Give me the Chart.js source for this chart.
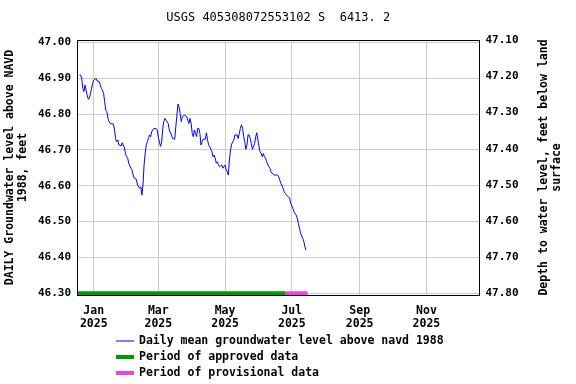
<!DOCTYPE html>
<html>
<head>
<meta charset="utf-8">
<script src="https://cdn.jsdelivr.net/npm/chart.js@4/dist/chart.umd.min.js"></script>
<style>
  body { margin: 0; background: #fff; }
  #wrap { width: 576px; height: 384px; position: relative; }
</style>
</head>
<body>
<div id="wrap"><canvas id="grafico"></canvas></div>
<script>
// dias contados desde el 1 de enero de 2025
const dias = [
  -13, -12, -11, -10, -9, -8, -7, -6, -5, -4, -3, -2, -1, 0, 2, 3, 5, 7, 8, 9,
  10, 11, 12, 13, 14, 15, 18, 19, 20, 21, 22, 23, 25, 26, 28, 29, 30, 31, 32, 34,
  35, 36, 37, 39, 40, 42, 43, 44, 45, 46, 47, 48, 49, 50, 51, 52, 53, 54, 55, 57,
  58, 59, 61, 62, 63, 64, 65, 67, 68, 69, 71, 72, 74, 75, 76, 77, 78, 79, 80, 81,
  83, 85, 86, 87, 88, 89, 90, 91, 92, 93, 94, 95, 96, 97, 98, 99, 100, 102, 103, 104,
  105, 106, 108, 109, 110, 111, 112, 113, 114, 115, 117, 118, 119, 120, 121, 122, 123, 124, 125, 126,
  127, 128, 129, 131, 132, 133, 134, 135, 136, 137, 138, 139, 140, 141, 142, 143, 144, 145, 146, 147,
  148, 149, 150, 151, 152, 153, 154, 155, 156, 157, 158, 160, 161, 162, 163, 165, 168, 169, 170, 171,
  173, 174, 175, 176, 178, 179, 180, 182, 183, 185, 186, 187, 188, 189, 191, 192, 193, 194
];
const nivel = [
  46.909, 46.909, 46.900, 46.872, 46.863, 46.881, 46.867, 46.853, 46.842, 46.844, 46.858, 46.872, 46.886, 46.895, 46.900, 46.893, 46.891, 46.872, 46.867, 46.858,
  46.835, 46.811, 46.807, 46.788, 46.779, 46.774, 46.772, 46.756, 46.732, 46.723, 46.728, 46.714, 46.711, 46.720, 46.707, 46.690, 46.681, 46.677, 46.663, 46.649,
  46.644, 46.630, 46.621, 46.618, 46.602, 46.593, 46.597, 46.574, 46.602, 46.658, 46.690, 46.714, 46.723, 46.732, 46.742, 46.737, 46.751, 46.756, 46.760, 46.760,
  46.756, 46.735, 46.710, 46.720, 46.758, 46.779, 46.788, 46.779, 46.774, 46.756, 46.742, 46.732, 46.730, 46.765, 46.797, 46.828, 46.820, 46.802, 46.779, 46.793,
  46.797, 46.793, 46.782, 46.774, 46.788, 46.774, 46.746, 46.737, 46.756, 46.746, 46.737, 46.760, 46.760, 46.746, 46.714, 46.723, 46.730, 46.730, 46.748, 46.728,
  46.714, 46.709, 46.695, 46.681, 46.686, 46.677, 46.663, 46.667, 46.658, 46.653, 46.658, 46.649, 46.654, 46.658, 46.644, 46.639, 46.630, 46.672, 46.700, 46.716,
  46.723, 46.728, 46.742, 46.742, 46.732, 46.746, 46.760, 46.770, 46.760, 46.737, 46.723, 46.702, 46.714, 46.742, 46.742, 46.732, 46.718, 46.702, 46.709, 46.718,
  46.737, 46.748, 46.728, 46.709, 46.695, 46.690, 46.681, 46.690, 46.681, 46.677, 46.667, 46.653, 46.649, 46.639, 46.635, 46.630, 46.630, 46.625, 46.616, 46.607,
  46.593, 46.583, 46.579, 46.574, 46.569, 46.565, 46.551, 46.537, 46.527, 46.518, 46.509, 46.495, 46.481, 46.467, 46.453, 46.444, 46.430, 46.420
];

// periodos de aprobacion (inicio, fin) en dias
const periodoAprobado = [-15.3, 175];
const periodoProvisional = [175, 195.5];
const nivelBarra = 46.30;

// marcas del eje x
const mesesDias = [0, 59, 120, 181, 243, 304];
const mesesEtiquetas = ["Jan", "Mar", "May", "Jul", "Sep", "Nov"];
const anioEtiqueta = "2025";

// marcas de los ejes y
const ticksIzq = [46.30, 46.40, 46.50, 46.60, 46.70, 46.80, 46.90, 47.00];
const ticksDer = [47.10, 47.20, 47.30, 47.40, 47.50, 47.60, 47.70, 47.80];

const fuente = "'DejaVu Sans Mono', monospace";

const datosLinea = dias.map((d, i) => ({ x: d, y: nivel[i] }));

const pluginExtra = {
    id: 'extra',
    afterDraw(chart) {
        const { ctx, chartArea: a } = chart;
        ctx.save();
        // marco
        ctx.strokeStyle = '#000';
        ctx.lineWidth = 1;
        ctx.strokeRect(Math.round(a.left) + 0.5, Math.round(a.top) + 0.5,
            Math.round(a.width) - 1, Math.round(a.height));

        // titulo del eje derecho
        ctx.fillStyle = '#000';
        ctx.font = "bold 11.5px " + fuente;
        ctx.textAlign = 'center';
        ctx.textBaseline = 'middle';
        const cy = (a.top + a.bottom) / 2;
        const lineas = ["Depth to water level, feet below land", "surface"];
        lineas.forEach((t, i) => {
            ctx.save();
            ctx.translate(a.right + 65 + i * 13, cy);
            ctx.rotate(-Math.PI / 2);
            ctx.fillText(t, 0, 0);
            ctx.restore();
        });

        // leyenda
        ctx.textAlign = 'left';
        chart.data.datasets.forEach((ds, i) => {
            const y = a.bottom + 46 + i * 16;
            ctx.strokeStyle = ds.borderColor;
            ctx.lineWidth = ds.borderWidth;
            ctx.beginPath();
            ctx.moveTo(116, y);
            ctx.lineTo(134, y);
            ctx.stroke();
            ctx.fillStyle = '#000';
            ctx.fillText(ds.label, 139, y + 0.5);
        });
        ctx.restore();
    }
};

const ctx = document.getElementById('grafico').getContext('2d');
new Chart(ctx, {
    type: 'line',
    data: {
        datasets: [
            {
                label: 'Daily mean groundwater level above navd 1988',
                data: datosLinea,
                borderColor: '#0000ff',
                borderWidth: 1,
                pointRadius: 0,
                tension: 0,
                yAxisID: 'y'
            },
            {
                label: 'Period of approved data',
                data: periodoAprobado.map(d => ({ x: d, y: nivelBarra })),
                borderColor: '#009900',
                borderWidth: 4,
                pointRadius: 0,
                yAxisID: 'y'
            },
            {
                label: 'Period of provisional data',
                data: periodoProvisional.map(d => ({ x: d, y: nivelBarra })),
                borderColor: '#ee44dd',
                borderWidth: 4,
                pointRadius: 0,
                yAxisID: 'y'
            }
        ]
    },
    options: {
        responsive: true,
        maintainAspectRatio: false,
        animation: false,
        layout: { padding: { left: 0, right: 0, top: 0, bottom: 55 } },
        plugins: {
            legend: { display: false },
            tooltip: { enabled: false },
            title: {
                display: true,
                fullSize: false,
                text: 'USGS 405308072553102 S  6413. 2',
                color: '#000',
                font: { family: fuente, size: 12, weight: 'normal', lineHeight: 1.2 },
                padding: { top: 11, bottom: 14.6 }
            }
        },
        scales: {
            x: {
                type: 'linear',
                min: -15.3,
                max: 352.5,
                afterBuildTicks: s => { s.ticks = mesesDias.map(v => ({ value: v })); },
                afterFit: s => { s.height = 34; },
                ticks: {
                    autoSkip: false,
                    maxRotation: 0,
                    padding: 9,
                    color: '#000',
                    font: { family: fuente, size: 11.5, weight: 'bold', lineHeight: 1.15 },
                    callback: v => {
                        const i = mesesDias.indexOf(v);
                        return i >= 0 ? [mesesEtiquetas[i], anioEtiqueta] : '';
                    }
                },
                grid: { color: '#cccccc', drawTicks: false },
                border: { color: '#000' }
            },
            y: {
                position: 'left',
                min: 46.295,
                max: 47.007,
                afterBuildTicks: s => { s.ticks = ticksIzq.map(v => ({ value: v })); },
                afterFit: s => { s.width = 77; },
                ticks: {
                    padding: 6,
                    color: '#000',
                    font: { family: fuente, size: 11, weight: 'bold' },
                    callback: v => v.toFixed(2)
                },
                grid: { color: '#cccccc', drawTicks: false },
                border: { color: '#000' },
                title: {
                    display: true,
                    text: ['DAILY Groundwater level above NAVD', '1988, feet'],
                    color: '#000',
                    font: { family: fuente, size: 11.5, weight: 'bold', lineHeight: 1.13 },
                    padding: { top: 4, bottom: 0 }
                }
            },
            y2: {
                position: 'right',
                reverse: true,
                min: 47.099,
                max: 47.805,
                afterBuildTicks: s => { s.ticks = ticksDer.map(v => ({ value: v })); },
                afterFit: s => { s.width = 96.5; },
                ticks: {
                    padding: 6,
                    color: '#000',
                    font: { family: fuente, size: 11, weight: 'bold' },
                    callback: v => v.toFixed(2)
                },
                grid: { drawOnChartArea: false, drawTicks: false },
                border: { color: '#000' }
            }
        }
    },
    plugins: [pluginExtra]
});
</script>
</body>
</html>
